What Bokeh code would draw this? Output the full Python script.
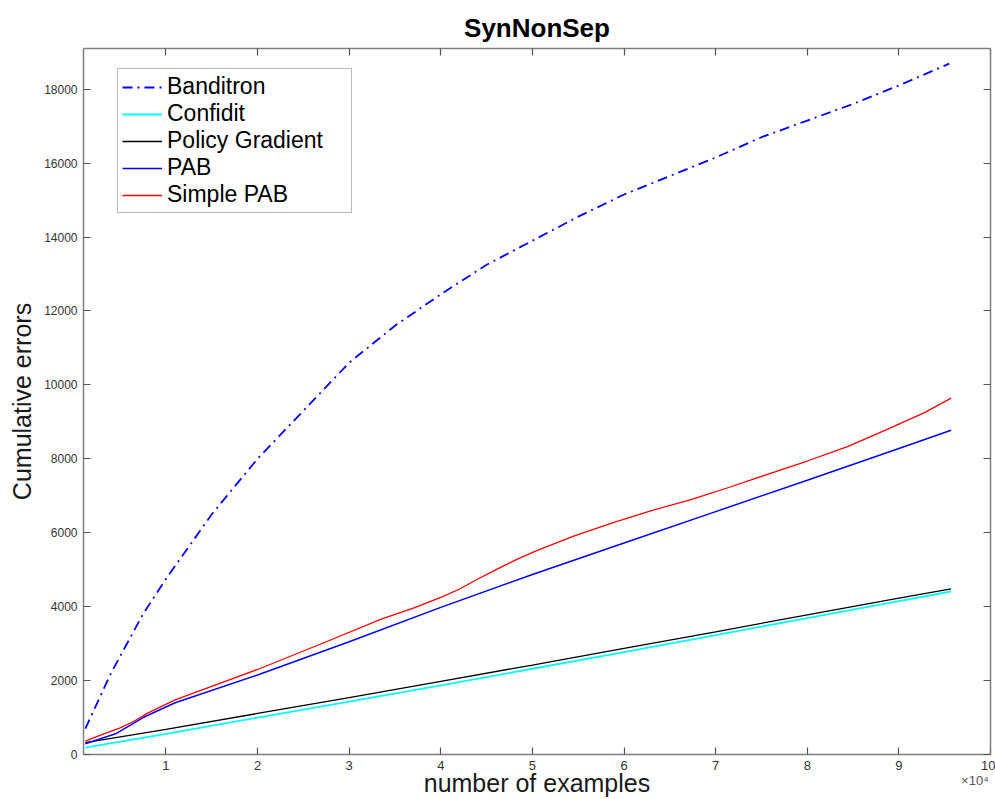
from bokeh.plotting import figure
from bokeh.models import (Range1d, FixedTicker, LinearAxis, Legend, LegendItem,
                          CustomJSTickFormatter)
from bokeh.embed import file_html
from bokeh.resources import INLINE

# ---- data (x in units of 10^4 examples) ----
banditron_x = [0.12, 0.4, 0.75, 1.0, 1.5, 2.0, 2.5, 3.0, 3.5, 4.0, 4.5, 5.0, 5.5, 6.0,
               6.5, 7.0, 7.5, 8.0, 8.5, 9.0, 9.55]
banditron_y = [700, 2200, 3800, 4750, 6500, 8000, 9300, 10600, 11600, 12450, 13250, 13900,
               14550, 15150, 15650, 16150, 16700, 17150, 17600, 18100, 18690]

confidit_x = [0.12, 1.0, 2.0, 3.0, 4.0, 5.0, 6.0, 7.0, 8.0, 9.0, 9.57]
confidit_y = [185, 560, 1000, 1430, 1870, 2320, 2770, 3230, 3690, 4150, 4410]

policy_x = [0.12, 1.0, 2.0, 3.0, 4.0, 5.0, 6.0, 7.0, 8.0, 9.0, 9.57]
policy_y = [320, 680, 1110, 1540, 1980, 2420, 2870, 3320, 3780, 4230, 4480]

pab_x = [0.12, 0.45, 0.75, 1.1, 2.0, 3.0, 4.0, 5.0, 6.0, 7.0, 8.0, 9.0, 9.57]
pab_y = [290, 560, 1000, 1400, 2150, 3050, 3980, 4870, 5720, 6570, 7420, 8280, 8770]

simple_x = [0.12, 0.3, 0.5, 0.65, 0.8, 1.1, 2.0, 2.75, 3.35, 3.7, 4.0, 4.2, 4.4, 4.62,
            4.83, 5.04, 5.45, 5.89, 6.3, 6.74, 7.15, 7.59, 8.0, 8.44, 8.86, 9.28, 9.57]
simple_y = [360, 540, 720, 900, 1120, 1480, 2300, 3050, 3660, 3960, 4250, 4470, 4740, 5020,
            5280, 5510, 5910, 6280, 6600, 6900, 7230, 7600, 7940, 8330, 8780, 9250, 9640]

x_ticks = [1, 2, 3, 4, 5, 6, 7, 8, 9, 10]
y_ticks = [0, 2000, 4000, 6000, 8000, 10000, 12000, 14000, 16000, 18000]
x_exponent_label = "\u00d710\u2074"
x_exponent_pos = [9.83]

FONT = "Liberation Sans"
AX = "#7f7f7f"
TXT = "#333333"

p = figure(width=995, height=799, output_backend="svg", toolbar_location=None,
           x_range=Range1d(0.1, 10), y_range=Range1d(0, 19100),
           min_border_left=83, min_border_right=5, min_border_top=48, min_border_bottom=45,
           title="SynNonSep")
p.title.align = "center"
p.title.vertical_align = "top"
p.title.text_font = FONT
p.title.text_font_size = "26px"
p.title.text_font_style = "bold"
p.title.text_color = "#000000"
p.title.standoff = 8
p.grid.visible = False
p.outline_line_color = None
p.background_fill_color = "white"
p.border_fill_color = "white"

def style_axis(ax, show_labels=True):
    ax.axis_line_color = AX
    ax.axis_line_width = 1.5
    ax.major_tick_line_color = "#555555"
    ax.major_tick_line_width = 1.2
    ax.major_tick_in = 7
    ax.major_tick_out = 0
    ax.minor_tick_line_color = None
    ax.major_label_text_font = FONT
    ax.major_label_text_color = TXT
    if not show_labels:
        ax.formatter = CustomJSTickFormatter(code="return '';")
        ax.major_label_standoff = 0

xa = p.xaxis[0]
ya = p.yaxis[0]
xa.ticker = FixedTicker(ticks=x_ticks)
ya.ticker = FixedTicker(ticks=y_ticks)
style_axis(xa)
style_axis(ya)
xa.major_label_text_font_size = "13px"
ya.major_label_text_font_size = "12px"
xa.major_label_standoff = 6
ya.major_label_standoff = 6
ya.axis_label = "Cumulative errors"
ya.axis_label_text_font = FONT
ya.axis_label_text_font_size = "25px"
ya.axis_label_text_font_style = "normal"
ya.axis_label_text_color = "#1a1a1a"
ya.axis_label_standoff = 5

# second, line-less axis below: carries the x10^4 marker and the axis title
xb = LinearAxis(ticker=FixedTicker(ticks=x_exponent_pos),
                formatter=CustomJSTickFormatter(code="return '%s';" % x_exponent_label))
xb.axis_line_color = None
xb.major_tick_line_color = None
xb.minor_tick_line_color = None
xb.major_tick_in = 0
xb.major_tick_out = 0
xb.major_label_standoff = 0
xb.major_label_text_font = FONT
xb.major_label_text_font_size = "13px"
xb.major_label_text_color = "#555555"
xb.axis_label = "number of examples"
xb.axis_label_text_font = FONT
xb.axis_label_text_font_size = "25px"
xb.axis_label_text_font_style = "normal"
xb.axis_label_text_color = "#1a1a1a"
xb.axis_label_standoff = -22
p.add_layout(xb, "below")

top = LinearAxis(ticker=FixedTicker(ticks=x_ticks))
right = LinearAxis(ticker=FixedTicker(ticks=y_ticks))
style_axis(top, False)
style_axis(right, False)
p.add_layout(top, "above")
p.add_layout(right, "right")

r_b = p.line(banditron_x, banditron_y, line_color="#0000ff", line_width=1.8,
             line_dash="10 5 2 5")
r_c = p.line(confidit_x, confidit_y, line_color="#00ffff", line_width=1.8)
r_p = p.line(policy_x, policy_y, line_color="#000000", line_width=1.3)
r_a = p.line(pab_x, pab_y, line_color="#0000ff", line_width=1.5)
r_s = p.line(simple_x, simple_y, line_color="#ff0000", line_width=1.3)

legend = Legend(items=[
    LegendItem(label="Banditron", renderers=[r_b]),
    LegendItem(label="Confidit", renderers=[r_c]),
    LegendItem(label="Policy Gradient", renderers=[r_p]),
    LegendItem(label="PAB", renderers=[r_a]),
    LegendItem(label="Simple PAB", renderers=[r_s]),
], location=(34, 541))
legend.label_text_font = FONT
legend.label_text_font_size = "23px"
legend.label_text_color = "#000000"
legend.label_height = 26
legend.glyph_height = 26
legend.glyph_width = 40
legend.label_standoff = 5
legend.label_width = 180
legend.spacing = 0
legend.padding = 4
legend.margin = 0
legend.border_line_color = "#777777"
legend.border_line_width = 1.5
legend.background_fill_alpha = 1
p.add_layout(legend, "center")

open("out.html", "w").write(file_html(p, INLINE))
